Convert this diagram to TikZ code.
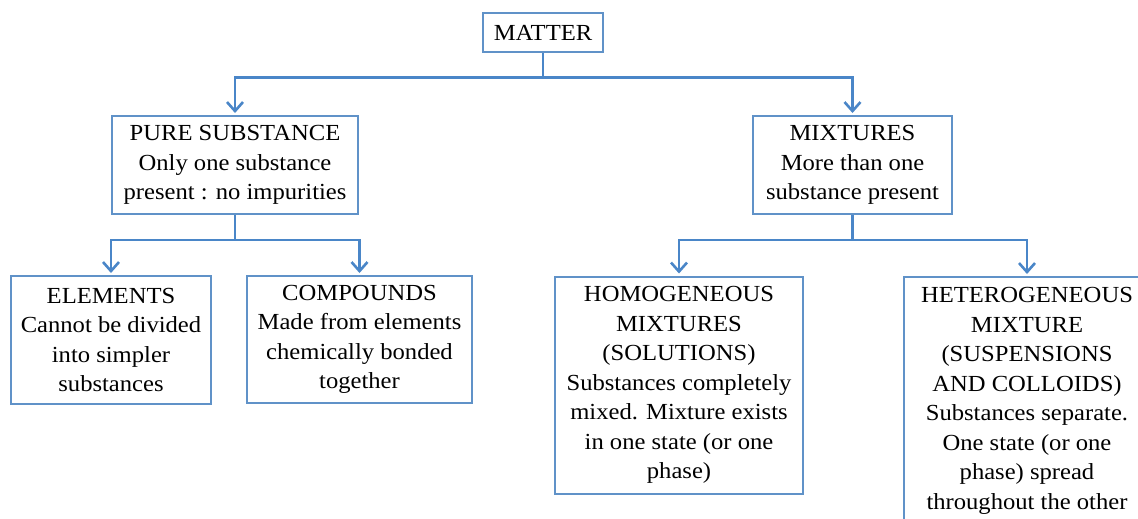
\documentclass[tikz,border=0pt]{standalone}
\usepackage{fontspec}
\setmainfont{Liberation Serif}[FakeStretch=1.07]
\usetikzlibrary{arrows.meta}
\definecolor{linec}{RGB}{74,134,200}
\definecolor{boxc}{RGB}{96,146,200}
\begin{document}
\begin{tikzpicture}[x=1pt,y=-1pt,
  box/.style={draw=boxc, line width=2pt, align=center, inner sep=0pt,
    font=\fontsize{23}{29.5}\selectfont, text=black},
  ln/.style={draw=linec, line width=2.8pt},
  arr/.style={ln, -{Straight Barb[length=9pt,width=16pt,line width=2.6pt]}, shorten >=2pt}]
\useasboundingbox (0,0) rectangle (1138,519);
\clip (0,0) rectangle (1138,519);
\fill[white] (0,0) rectangle (1138,519);

\node[box, minimum width=120pt, minimum height=39pt] (matter) at (543,32.5) {MATTER};
\node[box, minimum width=246pt, minimum height=98pt] (pure) at (235,165)
  {PURE SUBSTANCE\\Only one substance\\present : no impurities};
\node[box, minimum width=199pt, minimum height=98pt] (mix) at (852.5,165)
  {MIXTURES\\More than one\\substance present};
\node[box, minimum width=200pt, minimum height=128pt] (elem) at (111,340)
  {ELEMENTS\\Cannot be divided\\into simpler\\substances};
\node[box, minimum width=225pt, minimum height=127pt] (comp) at (359.5,339.5)
  {COMPOUNDS\\Made from elements\\chemically bonded\\together};
\node[box, minimum width=248pt, minimum height=217pt] (homo) at (679,385)
  {HOMOGENEOUS\\MIXTURES\\(SOLUTIONS)\\Substances completely\\mixed. Mixture exists\\in one state (or one\\phase)};
\node[box, minimum width=246pt, minimum height=248pt] (hetero) at (1027,401)
  {HETEROGENEOUS\\MIXTURE\\(SUSPENSIONS\\AND COLLOIDS)\\Substances separate.\\One state (or one\\phase) spread\\throughout the other};

\draw[ln] (matter.south) -- ++(0,24.5) coordinate (mj);
\draw[arr] (mj) -| (pure.north);
\draw[arr] (mj) -| (mix.north);

\draw[ln] (pure.south) -- ++(0,25) coordinate (pj);
\draw[arr] (pj) -| (elem.north);
\draw[arr] (pj) -| (comp.north);

\draw[ln] (mix.south) -- ++(0,25) coordinate (xj);
\draw[arr] (xj) -| (homo.north);
\draw[arr] (xj) -| (hetero.north);
\end{tikzpicture}
\end{document}
